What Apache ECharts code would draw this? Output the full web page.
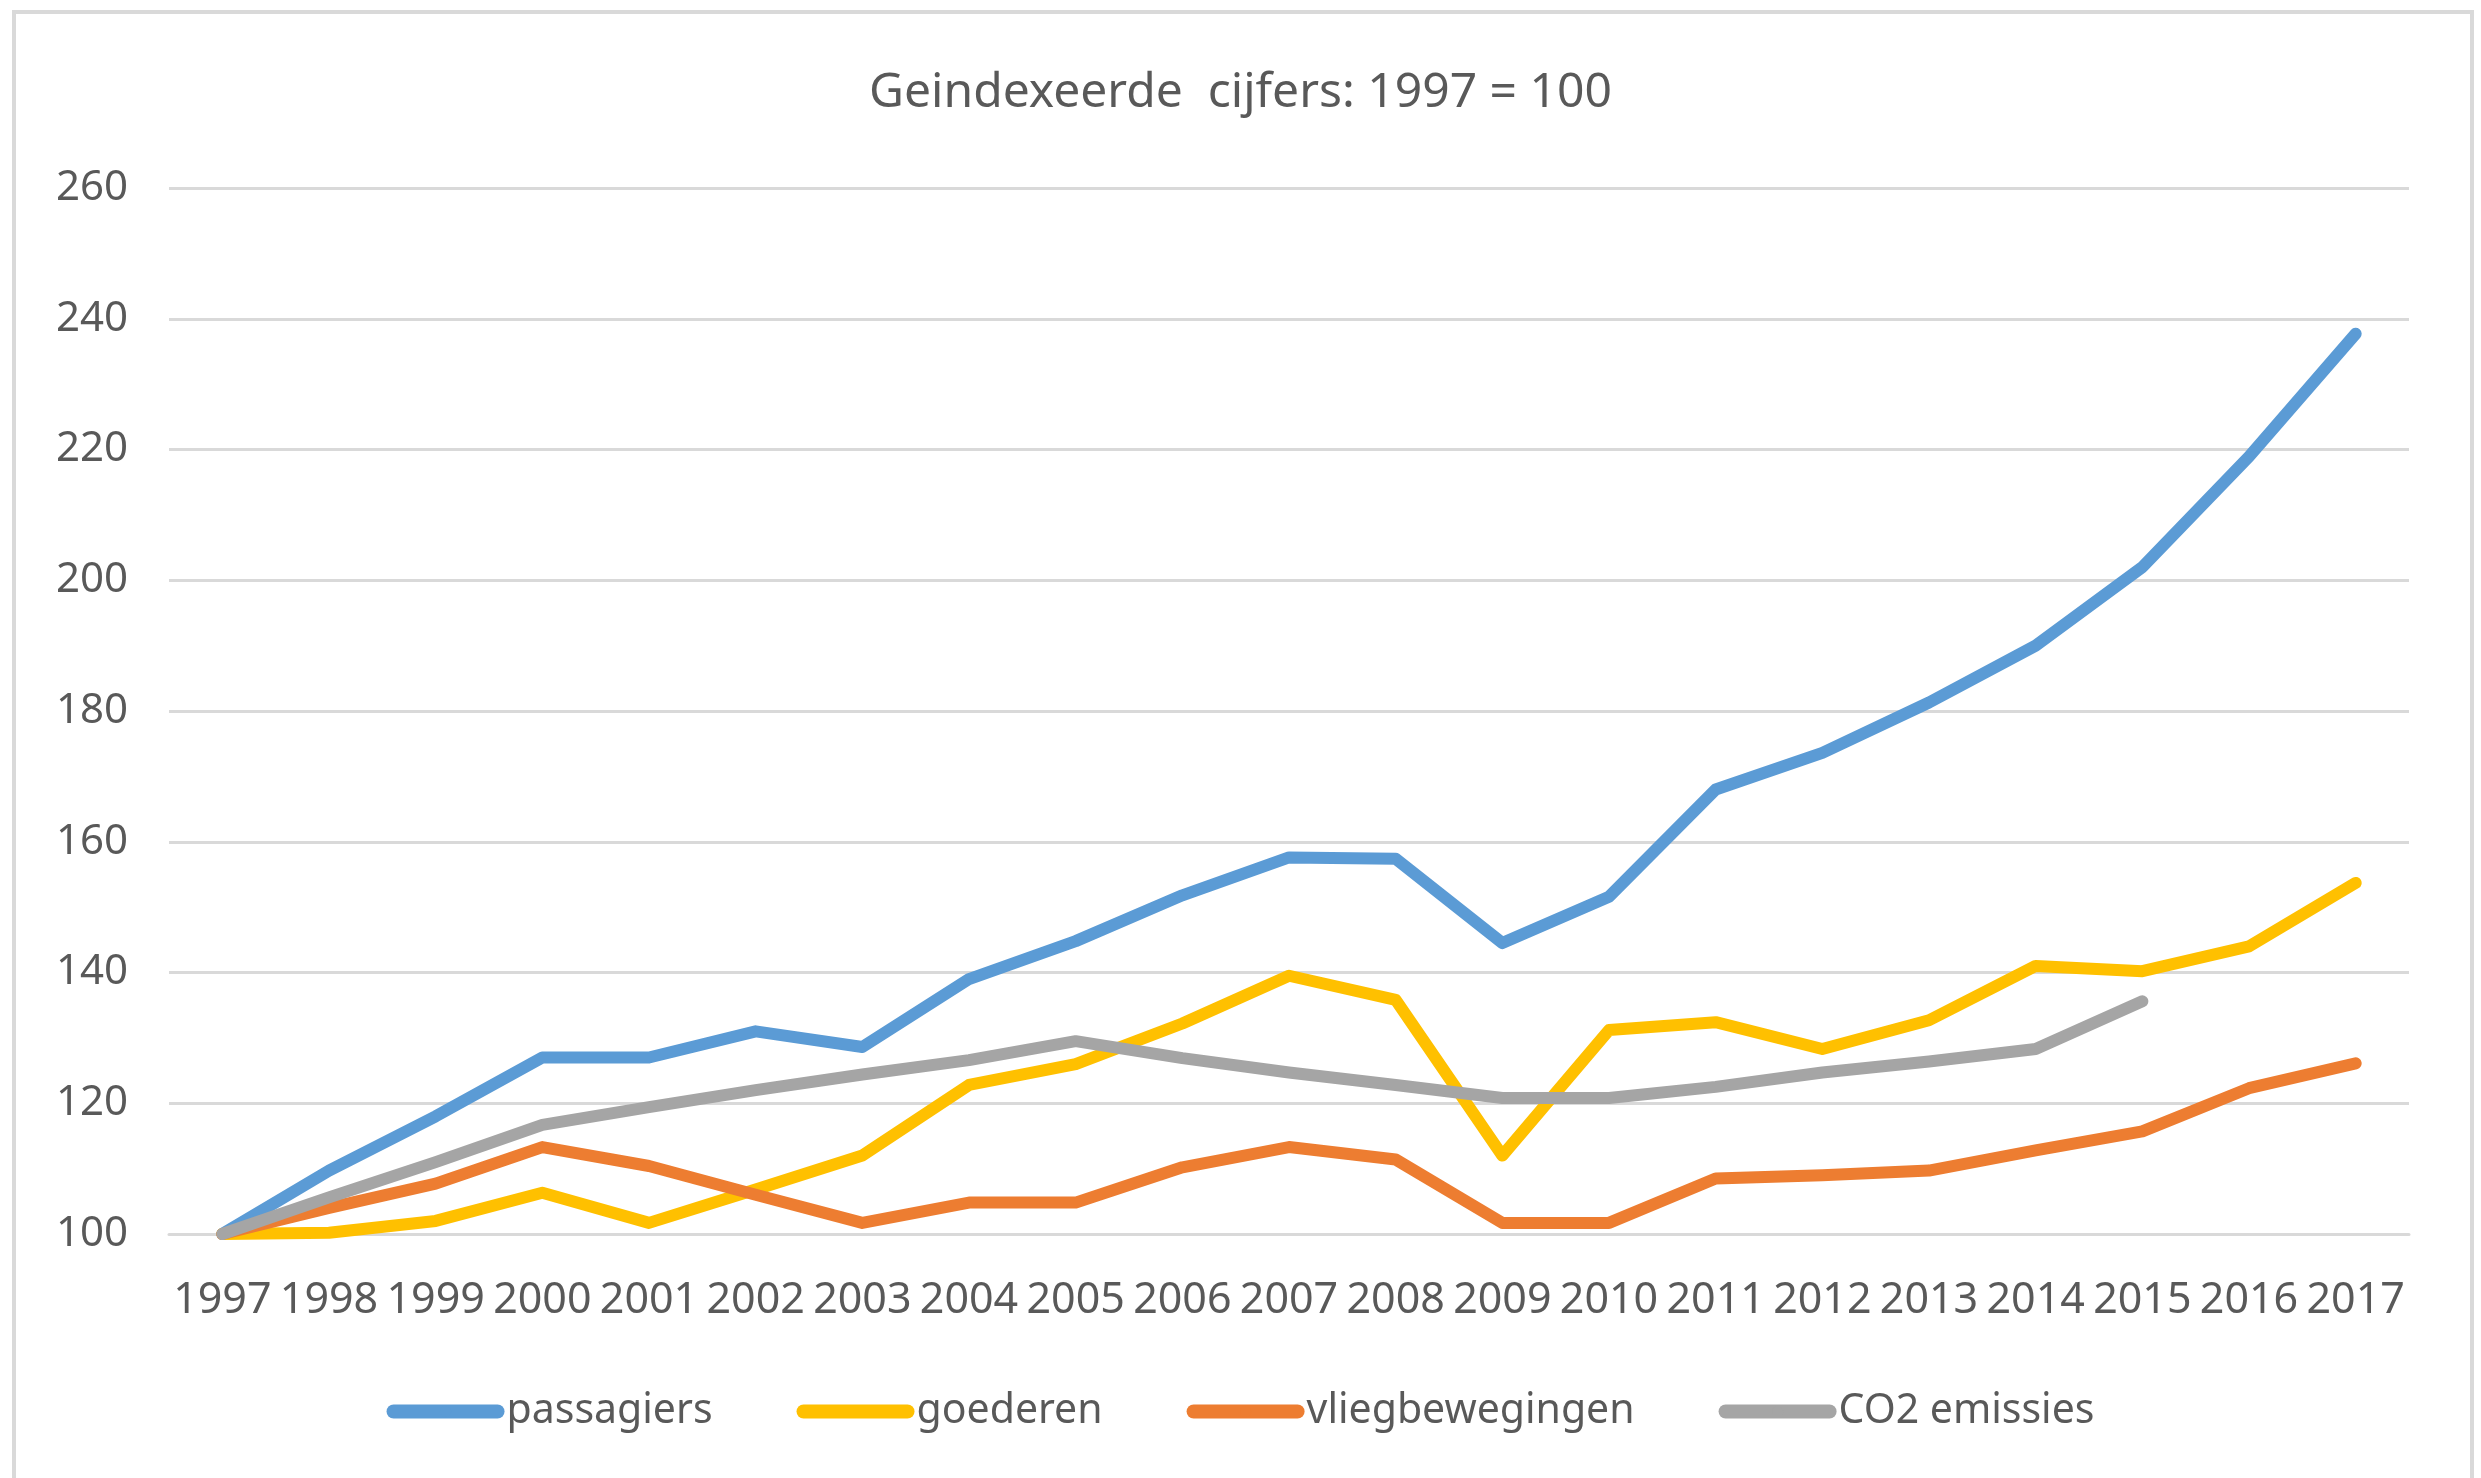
<!DOCTYPE html>
<html>
<head>
<meta charset="utf-8">
<style>
  html, body { margin: 0; padding: 0; background: #fff; }
  #chart { width: 2481px; height: 1478px; }
</style>
<script src="https://cdn.jsdelivr.net/npm/echarts@6/dist/echarts.min.js"></script>
</head>
<body>
<div id="chart"></div>
<script>
// jaren (categorieen)
var years = ['1997','1998','1999','2000','2001','2002','2003','2004','2005','2006','2007',
             '2008','2009','2010','2011','2012','2013','2014','2015','2016','2017'];

// geindexeerde reeksen, 1997 = 100
var passagiers = [100, 109.7, 118, 127, 127, 131, 128.6, 139, 144.8, 151.8, 157.6,
                  157.4, 144.5, 151.6, 168, 173.6, 181.3, 190, 202, 218.9, 237.7];
var goederen = [100, 100.2, 102, 106.3, 101.7, 106.8, 112, 122.8, 126, 132.2, 139.5,
                135.8, 112, 131.2, 132.4, 128.3, 132.7, 141, 140.2, 144, 153.7];
var vliegbewegingen = [100, 104, 107.7, 113.3, 110.4, 106, 101.7, 104.8, 104.8, 110.2, 113.3,
                       111.4, 101.7, 101.7, 108.5, 109, 109.7, 112.8, 115.7, 122.3, 126.1];
var co2 = [100, 105.6, 111, 116.7, 119.4, 122, 124.4, 126.6, 129.5, 126.9, 124.7,
           122.8, 120.8, 120.8, 122.5, 124.7, 126.4, 128.3, 135.6, null, null];

var seriesNames = ['passagiers', 'goederen', 'vliegbewegingen', 'CO2 emissies'];
var seriesData = [passagiers, goederen, vliegbewegingen, co2];
var colors = ['#5B9BD5', '#FFC000', '#ED7D31', '#A5A5A5'];

var textColor = '#595959';
var gridColor = '#D9D9D9';
var font = "'Noto Sans', 'Open Sans', sans-serif";

var myChart = echarts.init(document.getElementById('chart'));

var series = [];
for (var i = 0; i < seriesNames.length; i++) {
    series.push({
        name: seriesNames[i],
        type: 'line',
        data: seriesData[i],
        symbol: 'none',
        showSymbol: false,
        connectNulls: false,
        color: colors[i],
        lineStyle: {
            width: 12,
            color: colors[i],
            cap: 'round',
            join: 'round'
        },
        animation: false
    });
}

var option = {
    backgroundColor: '#fff',
    animation: false,
    color: colors,
    graphic: [{
        type: 'rect',
        shape: { x: 14, y: 12, width: 2458, height: 1520 },
        style: { fill: 'none', stroke: gridColor, lineWidth: 4 },
        silent: true
    }],
    title: {
        text: 'Geindexeerde  cijfers: 1997 = 100',
        left: 'center',
        top: 64,
        textStyle: {
            fontFamily: font,
            fontSize: 48,
            fontWeight: 'normal',
            color: textColor
        }
    },
    legend: {
        data: seriesNames,
        bottom: 41,
        left: 'center',
        itemWidth: 104,
        itemHeight: 14,
        itemGap: 84,
        lineStyle: { width: 14, cap: 'round' },
        textStyle: {
            fontFamily: font,
            fontSize: 41,
            color: textColor,
            padding: [0, 0, 0, 4]
        }
    },
    grid: {
        left: 169,
        right: 72,
        top: 188,
        bottom: 244,
        containLabel: false
    },
    xAxis: {
        type: 'category',
        data: years,
        boundaryGap: true,
        axisLine: { show: true, lineStyle: { color: gridColor, width: 3 } },
        axisTick: { show: false },
        axisLabel: {
            interval: 0,
            margin: 45,
            fontFamily: font,
            fontSize: 43,
            color: textColor
        }
    },
    yAxis: {
        type: 'value',
        min: 100,
        max: 260,
        interval: 20,
        axisLine: { show: false },
        axisTick: { show: false },
        splitLine: { lineStyle: { color: gridColor, width: 3 } },
        axisLabel: {
            margin: 41,
            fontFamily: font,
            fontSize: 42,
            color: textColor
        }
    },
    series: series
};

myChart.setOption(option);
</script>
</body>
</html>
